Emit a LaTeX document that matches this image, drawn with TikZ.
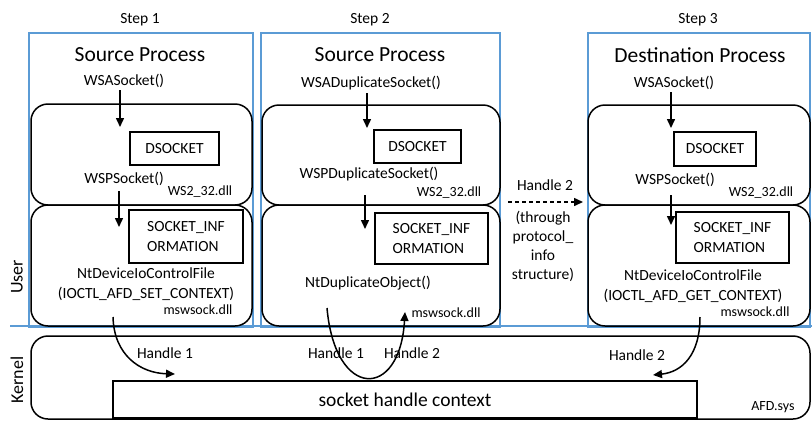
\documentclass[tikz,border=0pt]{standalone}
\usepackage{fontspec}
\setmainfont{Carlito}
\usetikzlibrary{arrows.meta}
\definecolor{bluebox}{RGB}{91,155,213}
\begin{document}
\begin{tikzpicture}[x=1pt,y=-1pt,
  bluefr/.style={draw=bluebox, line width=1.4pt, inner sep=0pt},
  rbox/.style={draw=black, line width=1.5pt, rounded corners=17pt, inner sep=0pt},
  sbox/.style={draw=black, line width=1.1pt, inner sep=0pt, align=left, font=\fontsize{15.5}{19.5}\selectfont},
  txt/.style={font=\fontsize{15.5}{19.5}\selectfont, inner sep=0pt, align=center},
  mid/.style={font=\fontsize{15.5}{19}\selectfont, inner sep=0pt, align=center},
  small/.style={font=\fontsize{14}{17}\selectfont, inner sep=0pt},
  ttl/.style={font=\fontsize{21.5}{26}\selectfont, inner sep=0pt},
  side/.style={font=\fontsize{18}{22}\selectfont, inner sep=0pt, rotate=90},
  arr/.style={-{Triangle[length=9pt,width=8pt]}, line width=1.5pt},
]
\useasboundingbox (0,0) rectangle (812,421);

% blue process frames
\node[bluefr, minimum width=224pt, minimum height=294pt] (p1) at (141,180) {};
\node[bluefr, minimum width=239pt, minimum height=294pt] (p2) at (380.5,180) {};
\node[bluefr, minimum width=222pt, minimum height=294pt] (p3) at (699,180) {};
% user/kernel separator
\coordinate (sepL) at (10,326);
\coordinate (sepR) at (812,326);
\draw[draw=bluebox, line width=1.4pt] (sepL) -- (sepR);

% rounded dll boxes
\node[rbox, minimum width=221pt, minimum height=101pt] (ws1) at (141.5,154.5) {};
\node[rbox, minimum width=221pt, minimum height=121pt] (ms1) at (141.5,265.5) {};
\node[rbox, minimum width=238pt, minimum height=100pt] (ws2) at (381,155) {};
\node[rbox, minimum width=238pt, minimum height=121pt] (ms2) at (381,265.5) {};
\node[rbox, minimum width=222pt, minimum height=100pt] (ws3) at (699,155) {};
\node[rbox, minimum width=222pt, minimum height=121pt] (ms3) at (699,265.5) {};
% kernel
\node[rbox, minimum width=779pt, minimum height=83pt] (kern) at (420.5,377.5) {};
\node[draw=black, line width=1.1pt, minimum width=584pt, minimum height=37pt, inner sep=0pt,
      font=\fontsize{19.5}{23}\selectfont] (shc) at (405,399.5) {socket handle context};
\node[small] (afd) at (773,407) {AFD.sys};

% side labels
\node[side] (user) at (17,277) {User};
\node[side] (kernel) at (17,380) {Kernel};

% step labels and titles
\node[txt] (st1) at (140,20) {Step 1};
\node[txt] (st2) at (370,20) {Step 2};
\node[txt] (st3) at (698,20) {Step 3};
\node[ttl] (t1) at (140,55) {Source Process};
\node[ttl] (t2) at (380,55) {Source Process};
\node[ttl] (t3) at (700,55) {Destination Process};

% step 1 content
\node[txt] (wsa1) at (124,81) {WSASocket()};
\node[sbox, minimum width=89pt, minimum height=33pt] (ds1) at (174.5,148.5) {DSOCKET};
\node[txt] (wsp1) at (124,179) {WSPSocket()};
\node[small] (dll1) at (200,192) {WS2\_32.dll};
\node[sbox, minimum width=114pt, minimum height=53pt] (si1) at (186,236.5) {SOCKET\_INF\\ORMATION};
\node[txt] (nt1) at (146,284) {NtDeviceIoControlFile\\(IOCTL\_AFD\_SET\_CONTEXT)};
\node[small] (msd1) at (198,310) {mswsock.dll};
\node[txt] (h1) at (165,353) {Handle 1};

% step 2 content
\node[txt] (wsa2) at (371,83) {WSADuplicateSocket()};
\node[sbox, minimum width=87pt, minimum height=33pt] (ds2) at (417.5,146.5) {DSOCKET};
\node[txt] (wsp2) at (369,174) {WSPDuplicateSocket()};
\node[small] (dll2) at (449,193) {WS2\_32.dll};
\node[sbox, minimum width=113pt, minimum height=51pt] (si2) at (431.5,238.5) {SOCKET\_INF\\ORMATION};
\node[txt] (nt2) at (368,283) {NtDuplicateObject()};
\node[small] (msd2) at (446,313) {mswsock.dll};
\node[txt] (h1b) at (336,353) {Handle 1};
\node[txt] (h2b) at (412,353) {Handle 2};

% step 3 content
\node[txt] (wsa3) at (674,83) {WSASocket()};
\node[sbox, minimum width=82pt, minimum height=34pt] (ds3) at (715,149) {DSOCKET};
\node[txt] (wsp3) at (675,180) {WSPSocket()};
\node[small] (dll3) at (761,193) {WS2\_32.dll};
\node[sbox, minimum width=113pt, minimum height=51pt] (si3) at (732.5,237.5) {SOCKET\_INF\\ORMATION};
\node[txt] (nt3) at (693,286) {NtDeviceIoControlFile\\(IOCTL\_AFD\_GET\_CONTEXT)};
\node[small] (msd3) at (755,312) {mswsock.dll};
\node[txt] (h2c) at (637,355) {Handle 2};

% middle transfer
\node[txt] (hm) at (545,185) {Handle 2};
\node[mid] (thr) at (543,246.5) {(through\\protocol\_\\info\\structure)};

% arrow endpoints
\coordinate (a1s) at (120,90);  \coordinate (a1e) at (120,127);
\coordinate (b1s) at (119,191); \coordinate (b1e) at (119,227);
\coordinate (a2s) at (367,93);  \coordinate (a2e) at (367,128);
\coordinate (b2s) at (365,195); \coordinate (b2e) at (365,229);
\coordinate (a3s) at (671,92);  \coordinate (a3e) at (671,128);
\coordinate (b3s) at (671,195); \coordinate (b3e) at (671,225);
\coordinate (ds) at (508,202);  \coordinate (de) at (583,202);
\coordinate (c1s) at (113,317); \coordinate (c1e) at (175,374);
\coordinate (c2s) at (327,308); \coordinate (c2e) at (405,312);
\coordinate (c3s) at (700,317); \coordinate (c3e) at (653,375);

\draw[arr] (a1s) -- (a1e);
\draw[arr] (b1s) -- (b1e);
\draw[arr] (a2s) -- (a2e);
\draw[arr] (b2s) -- (b2e);
\draw[arr] (a3s) -- (a3e);
\draw[arr] (b3s) -- (b3e);
\draw[arr, dash pattern=on 4pt off 3pt] (ds) -- (de);
\draw[arr] (c1s) .. controls (114,355) and (140,373) .. (c1e);
\draw[arr] (c2s) .. controls (335,400) and (400,400) .. (c2e);
\draw[arr] (c3s) .. controls (700,355) and (682,372) .. (c3e);
\end{tikzpicture}
\end{document}
